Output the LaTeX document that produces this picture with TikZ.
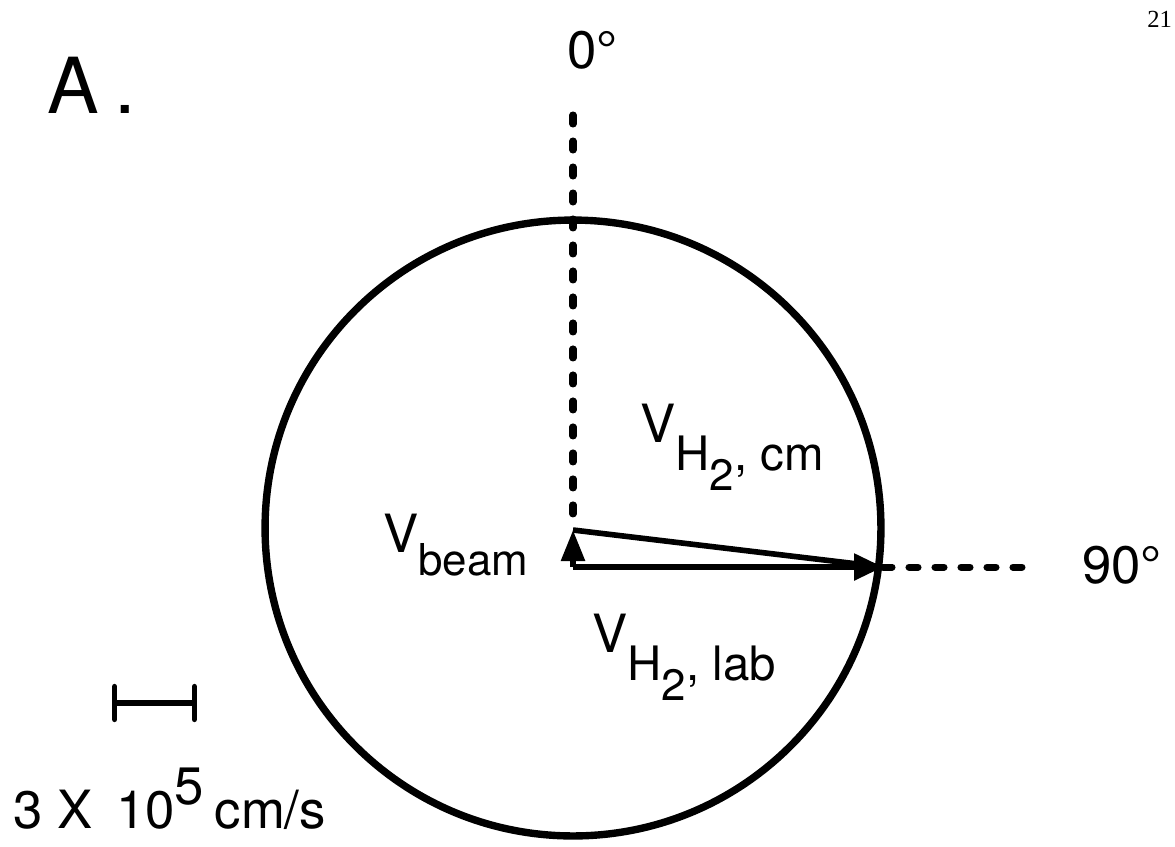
\documentclass[tikz,border=0pt]{standalone}
\usepackage{fontspec}
\setmainfont{TeX Gyre Heros}
\newfontfamily\pagefont{Liberation Serif}
\usetikzlibrary{arrows.meta}

\newcommand{\subfs}{\fontsize{27}{30}\selectfont}
\newcommand{\twofs}{\fontsize{25}{28}\selectfont}

\begin{document}
\begin{tikzpicture}[
    x=0.02cm, y=-0.02cm,
    every node/.style={font=\fontsize{30}{36}\selectfont, inner sep=0pt, anchor=base west},
    rim/.style={line width=4.2pt},
    guide/.style={line width=4pt, line cap=round, dash pattern=on 0.18cm off 0.34cm},
    vec/.style={line width=3.2pt, -{Triangle[length=0.58cm, width=0.52cm]}},
    cmvec/.style={line width=3.2pt},
    scalebar/.style={line width=3pt, {Bar[width=0.66cm, round]}-{Bar[width=0.66cm, round]}}
]
\useasboundingbox (0,0) rectangle (1175,846);

% Points
\coordinate (hub) at (573,528);
\coordinate (origin) at (573,567);
\coordinate (beamtip) at (573,530);
\coordinate (labtip) at (883,567);
\coordinate (zerotop) at (573,115);
\coordinate (zerobot) at (573,522);
\coordinate (ninetyend) at (1035,567);
\coordinate (barl) at (112,703);
\coordinate (barr) at (197,703);

% Newton circle
\draw[rim] (hub) circle [radius=6.16cm];

% Angle guides
\draw[guide] (zerotop) -- (zerobot);
\draw[guide] (labtip) -- (ninetyend);

% Velocity vectors
\draw[vec, -{Triangle[length=0.62cm, width=0.46cm]}] (origin) -- (beamtip);
\draw[cmvec] (beamtip) -- (labtip);
\draw[vec] (origin) -- (labtip);

% Labels
\node[font=\fontsize{44}{50}\selectfont] (panel) at (47,113) {A\hspace{0.2em}.};
\node (zerolbl) at (567,68) {0°};
\node (ninetylbl) at (1082,583) {90°};
\node (cmlbl) at (640,442) {V\raisebox{-0.56cm}{\subfs H\raisebox{-0.4cm}{\twofs 2}, cm}};
\node (beamlbl) at (383,552) {V\raisebox{-0.46cm}{\fontsize{25}{28}\selectfont beam}};
\node (lablbl) at (592,652) {V\raisebox{-0.56cm}{\subfs H\raisebox{-0.4cm}{\twofs 2}, lab}};

% Scale bar
\draw[scalebar] (barl) -- (barr);
\node (scalelbl) at (13,828) {3 X\hspace{0.45em}10\raisebox{0.48cm}{5}\hspace{0.2em}cm/s};

% Page number
\node[font=\pagefont\fontsize{14}{16}\selectfont] (pagenum) at (1147,27) {21};
\end{tikzpicture}
\end{document}
